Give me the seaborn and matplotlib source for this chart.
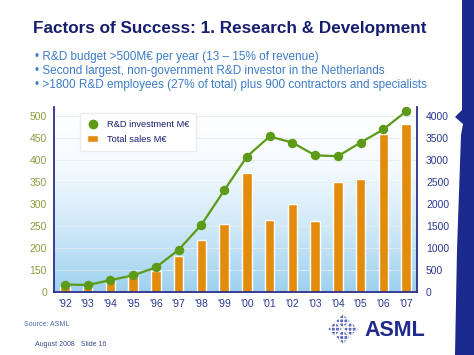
import matplotlib.pyplot as plt
import numpy as np
import pandas as pd
import seaborn as sns
from matplotlib.colors import LinearSegmentedColormap
from matplotlib.lines import Line2D
from matplotlib.patches import Patch, Polygon

# values
years = ["'92", "'93", "'94", "'95", "'96", "'97", "'98", "'99",
         "'00", "'01", "'02", "'03", "'04", "'05", "'06", "'07"]
rnd_invest = [117, 116, 127, 138, 156, 196, 253, 331, 408, 454, 440, 411, 409, 440, 470, 511]
total_sales = [105, 105, 240, 340, 470, 830, 1190, 1550, 2705, 1636, 2008, 1614, 2508, 2561, 3591, 3818]

left_ticks = [100, 150, 200, 250, 300, 350, 400, 450, 500]
left_tick_labels = ['0', '150', '200', '250', '300', '350', '400', '450', '500']
right_ticks = [0, 500, 1000, 1500, 2000, 2500, 3000, 3500, 4000]

title = 'Factors of Success: 1. Research & Development'
bullets = ['R&D budget >500M€ per year (13 – 15% of revenue)',
           'Second largest, non-government R&D investor in the Netherlands',
           '>1800 R&D employees (27% of total) plus 900 contractors and specialists']

navy = '#161d6e'
orange = '#e38b0c'
green = '#5c9a18'

sns.set_style('white')
plt.rcParams['font.family'] = ['Liberation Sans', 'DejaVu Sans']

W, H = 474, 355
fig = plt.figure(figsize=(W / 100, H / 100), dpi=100)


def px(x, y):
    return x / W, 1 - y / H


ax = fig.add_axes([54 / W, 1 - 292 / H, (417 - 54) / W, (292 - 107) / H])
ax2 = ax.twinx()

df = pd.DataFrame({'year': years, 'rnd': rnd_invest, 'sales': total_sales})

# light blue gradient behind the bars
grad = np.linspace(0, 1, 256).reshape(-1, 1)
cmap = LinearSegmentedColormap.from_list(
    'bg', [(0, '#ffffff'), (0.3, '#f6fbfe'), (0.65, '#d0e9f8'), (1, '#9ed1ef')])
ax.imshow(grad, extent=[-0.5, 15.5, 0, 4210], aspect='auto', cmap=cmap, zorder=0)

sns.barplot(data=df, x='year', y='sales', ax=ax, color=orange, saturation=1,
            width=0.42, zorder=2)
sns.pointplot(data=df, x='year', y='rnd', ax=ax2, color=green, errorbar=None,
              markersize=5.6, linewidth=1.6)

ax.set_xlim(-0.48, 15.48)
ax.set_ylim(0, 4210)
ax2.set_ylim(100, 521)
ax.set_xlabel('')
ax.set_ylabel('')
ax2.set_ylabel('')

ax.yaxis.tick_right()
ax.set_yticks(right_ticks)
ax2.yaxis.tick_left()
ax2.set_yticks(left_ticks)
ax2.set_yticklabels(left_tick_labels)

ax.set_axisbelow(True)
ax.grid(axis='y', color='#e4ecf2', lw=0.6)

ax.tick_params(axis='y', length=0, pad=6.5, labelsize=7.5, labelcolor='#2b3990')
ax.tick_params(axis='x', length=0, pad=5, labelsize=7.5, labelcolor='#2b3990')
ax2.tick_params(axis='y', length=0, pad=5, labelsize=7.5, labelcolor='#8d9b3f')

for s in ['left', 'right', 'bottom']:
    ax.spines[s].set_color('#2a2f8a')
    ax.spines[s].set_linewidth(1.3)
ax.spines['top'].set_visible(False)
for s in ax2.spines.values():
    s.set_visible(False)

handles = [Line2D([], [], marker='o', ls='', color=green, ms=6),
           Patch(facecolor=orange)]
fig.legend(handles, ['R&D investment M€', 'Total sales M€'], loc='upper left',
           bbox_to_anchor=px(80, 113), fontsize=6.7, labelcolor=navy,
           frameon=True, fancybox=False, edgecolor='#ececec', framealpha=1,
           handlelength=1.2, handletextpad=0.9, labelspacing=0.6,
           borderpad=0.75, borderaxespad=0)

# slide text
fig.text(*px(33, 29), title, fontsize=12.3, weight='bold', color=navy, va='center')
for i, b in enumerate(bullets):
    fig.text(*px(35, 57 + 14 * i), '• ' + b, fontsize=8.5, color='#3d7cc9', va='center')

fig.text(*px(24, 325), 'Source: ASML', fontsize=5, color='#4a6aa8', va='center')
fig.text(*px(35, 345), 'August 2008   Slide 16', fontsize=5, color='#3a4a8a', va='center')

# logo
for cx, cy in [(343, 321), (335, 329), (351, 329), (343, 337)]:
    pts = [px(cx, cy - 7), px(cx + 7, cy), px(cx, cy + 7), px(cx - 7, cy)]
    fig.patches.append(Polygon(pts, closed=True, transform=fig.transFigure,
                               facecolor='#5866b8', edgecolor='white', lw=0.4,
                               hatch='++++'))
fig.text(*px(364, 330), 'ASML', fontsize=15.5, weight='bold', color='#1f2a8c', va='center')

# blue band at the right edge
band = [px(462, 0), px(474, 0), px(474, 355), px(455, 355), px(457, 250),
        px(461, 135), px(463, 124), px(455, 117), px(462, 110)]
fig.patches.append(Polygon(band, closed=True, transform=fig.transFigure,
                           facecolor='#1b2a8c', edgecolor='none'))

fig.savefig('out.png', dpi=100)
